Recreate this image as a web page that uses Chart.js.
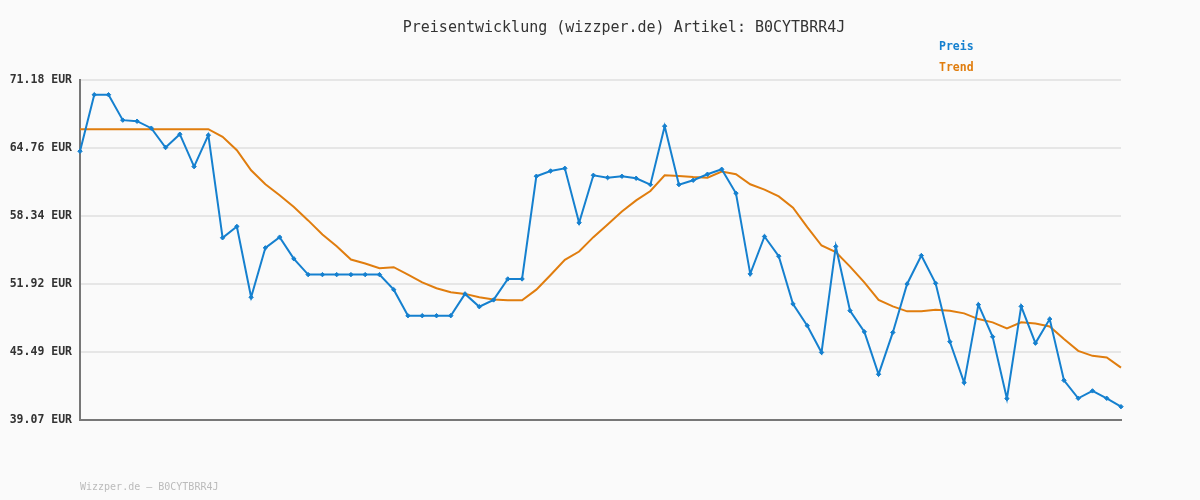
<!DOCTYPE html>
<html>
<head>
<meta charset="utf-8">
<script src="https://cdn.jsdelivr.net/npm/chart.js@4.4.1/dist/chart.umd.min.js"></script>
<style>
html,body{margin:0;padding:0;background:#fafafa;}
#wrap{width:1200px;height:500px;position:relative;}
</style>
</head>
<body>
<div id="wrap"><canvas id="c" width="1200" height="500"></canvas></div>
<script>
const titleText = "Preisentwicklung (wizzper.de) Artikel: B0CYTBRR4J";
const footerText = "Wizzper.de \u2013 B0CYTBRR4J";
const categories = ["1","2","3","4","5","6","7","8","9","10","11","12","13","14","15","16","17","18","19","20","21","22","23","24","25","26","27","28","29","30","31","32","33","34","35","36","37","38","39","40","41","42","43","44","45","46","47","48","49","50","51","52","53","54","55","56","57","58","59","60","61","62","63","64","65","66","67","68","69","70","71","72","73","74"];
const preis = [64.45,69.79,69.79,67.39,67.29,66.63,64.80,66.06,63.00,65.97,
  56.28,57.35,50.66,55.33,56.34,54.29,52.80,52.80,52.80,52.80,
  52.80,52.80,51.38,48.92,48.92,48.92,48.92,50.98,49.77,50.41,
  52.39,52.39,62.09,62.59,62.84,57.70,62.18,61.96,62.09,61.90,
  61.30,66.82,61.30,61.71,62.28,62.75,60.48,52.87,56.40,54.54,
  50.03,47.98,45.45,55.46,49.39,47.40,43.39,47.34,51.92,54.60,
  51.98,46.46,42.60,49.96,46.93,41.09,49.80,46.33,48.60,42.82,
  41.12,41.82,41.12,40.33];
const trend = [66.54,66.54,66.54,66.54,66.54,66.54,66.54,66.54,66.54,66.54,
  65.81,64.55,62.65,61.33,60.29,59.18,57.92,56.59,55.48,54.22,
  53.85,53.40,53.50,52.80,52.07,51.51,51.13,50.98,50.66,50.46,
  50.37,50.37,51.38,52.77,54.20,54.98,56.34,57.54,58.77,59.81,
  60.70,62.18,62.12,62.02,61.96,62.53,62.28,61.33,60.83,60.19,
  59.12,57.29,55.55,54.92,53.56,52.07,50.41,49.80,49.33,49.33,
  49.49,49.39,49.14,48.60,48.29,47.72,48.29,48.19,47.91,46.71,
  45.60,45.13,44.97,44.02];
const yTicks = [39.07,45.49,51.92,58.34,64.76,71.18];
const seriesNames = ["Preis","Trend"];
const blue = "#1580cf";
const orange = "#e07d0e";

const textPlugin = {
  id: 'texts',
  beforeDraw(chart){
    const ctx = chart.ctx;
    ctx.save();
    ctx.fillStyle = '#fafafa';
    ctx.fillRect(0,0,chart.width,chart.height);
    ctx.restore();
  },
  afterDraw(chart){
    const ctx = chart.ctx;
    ctx.save();
    ctx.textBaseline = 'middle';
    ctx.font = '15px "DejaVu Sans Mono"';
    ctx.fillStyle = '#333';
    ctx.textAlign = 'center';
    ctx.fillText(titleText, 624, 28);
    ctx.textAlign = 'left';
    ctx.font = 'bold 11.5px "DejaVu Sans Mono"';
    ctx.fillStyle = blue;
    ctx.fillText(seriesNames[0], 939, 47);
    ctx.fillStyle = orange;
    ctx.fillText(seriesNames[1], 939, 68);
    ctx.font = '10px "DejaVu Sans Mono"';
    ctx.fillStyle = '#bbbbbb';
    ctx.fillText(footerText, 80, 487);
    ctx.restore();
  }
};

new Chart(document.getElementById('c'), {
  type: 'line',
  data: {
    labels: categories,
    datasets: [
      { label: seriesNames[0], data: preis, borderColor: blue, backgroundColor: blue,
        borderWidth: 2, pointStyle: 'rectRot', pointRadius: 2.2, pointBorderWidth: 1,
        pointBackgroundColor: blue, pointBorderColor: blue, tension: 0, order: 1 },
      { label: seriesNames[1], data: trend, borderColor: orange, backgroundColor: orange,
        borderWidth: 2, pointRadius: 0, tension: 0, order: 2 }
    ]
  },
  options: {
    responsive: false,
    animation: false,
    layout: { padding: { top: 80, right: 79, bottom: 80, left: 0 } },
    plugins: { legend: { display: false }, title: { display: false }, tooltip: { enabled: false } },
    scales: {
      x: {
        offset: false,
        ticks: { display: false },
        grid: { display: false, drawTicks: false },
        border: { display: true, color: '#777', width: 2 },
        afterFit(s){ s.height = 0; }
      },
      y: {
        min: yTicks[0], max: yTicks[yTicks.length-1],
        afterBuildTicks(s){ s.ticks = yTicks.map(v => ({ value: v })); },
        ticks: {
          padding: 8, color: '#333',
          font: { family: '"DejaVu Sans Mono"', size: 11.5, weight: 'bold' },
          callback: v => Number(v).toFixed(2) + ' EUR'
        },
        grid: { color: '#e6e6e6', lineWidth: 2, drawTicks: false },
        border: { display: true, color: '#777', width: 2 },
        afterFit(s){ s.width = 80; }
      }
    }
  },
  plugins: [textPlugin]
});
</script>
</body>
</html>
